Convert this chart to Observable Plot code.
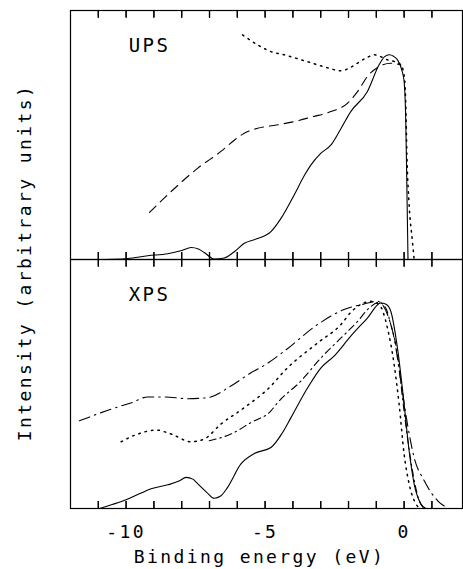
<!DOCTYPE html>
<html>
<head>
<meta charset="utf-8">
<script src="https://cdn.jsdelivr.net/npm/d3@7"></script>
<script src="https://cdn.jsdelivr.net/npm/@observablehq/plot@0.6"></script>
<style>
  html, body { margin: 0; padding: 0; background: white; }
</style>
</head>
<body>
<div id="chart"></div>
<script>
// Panels
const panels = ["UPS", "XPS"];
// Tick positions and labels (binding energy, eV)
const xTicks = [-11, -10, -9, -8, -7, -6, -5, -4, -3, -2, -1, 0, 1];
const xTickLabels = [-10, -5, 0];
const xLabel = "Binding energy (eV)";
const yLabel = "Intensity (arbitrary units)";

// UPS panel: [binding energy (eV), intensity (arb.)]
const upsSolid = [[-11,0],[-10.5,0.1],[-9.94,0.4],[-9.22,1.5],[-8.5,2.3],[-8.0,3.6],[-7.66,4.8],[-7.4,4.2],[-7.19,2.8],[-6.83,0.2],[-6.47,0.6],[-6.1,3.2],[-5.75,6.5],[-5.3,8.3],[-4.79,11.2],[-4.4,17],[-3.95,26],[-3.6,33.5],[-3.35,38],[-2.99,42.7],[-2.63,46],[-2.3,52],[-1.92,59.4],[-1.32,67.5],[-0.9,78.2],[-0.7,81.5],[-0.54,82.2],[-0.38,81.6],[-0.24,80.2],[-0.08,76],[0.0,71.5],[0.06,55.4],[0.1,28.6],[0.14,0]];
const upsDotted = [[-5.81,90.2],[-5.27,86.2],[-4.79,83.5],[-4.31,82.2],[-3.7,80.2],[-3.11,78.2],[-2.7,76.8],[-2.27,75.8],[-1.95,77],[-1.67,78.9],[-1.3,81.3],[-1.08,82.2],[-0.85,81.5],[-0.6,80.2],[-0.35,79.5],[-0.12,78.2],[0.0,74],[0.06,62.1],[0.1,42],[0.18,22],[0.3,7.2],[0.36,0]];
const upsDashed = [[-9.16,18.9],[-8.38,27.3],[-7.42,36.7],[-6.59,43.4],[-6.1,48],[-5.75,50.7],[-5.27,52.7],[-4.6,54],[-3.95,55.4],[-3.3,57.3],[-2.63,59.4],[-2.03,62.8],[-1.67,67.5],[-1.32,73.5],[-0.9,77.5],[-0.48,78.8],[-0.12,78.2]];

// XPS panel
const xpsSolid = [[-10.96,0],[-10.5,1.6],[-10,3.5],[-9.5,6],[-9.1,7.9],[-8.5,9.5],[-8.1,11],[-7.84,12.5],[-7.6,11.8],[-7.42,9.9],[-7.1,6.5],[-6.83,4.1],[-6.6,5],[-6.35,8.5],[-5.87,17.9],[-5.39,22.1],[-4.79,24.5],[-4.4,30],[-4.07,36.5],[-3.47,48.5],[-2.99,56.5],[-2.52,61.2],[-1.92,69.2],[-1.32,76.5],[-0.84,82.5],[-0.65,82],[-0.48,79.2],[-0.24,64.5],[0,41.9],[0.18,23.2],[0.36,9.9],[0.6,1.9],[0.78,0]];
const xpsDashDot = [[-11.68,35.2],[-10.54,39.9],[-9.8,42.5],[-9.22,44.8],[-8.62,44.8],[-7.78,44.1],[-7.06,44.5],[-6.23,49.2],[-5.51,54.5],[-4.97,57.9],[-4.31,63.2],[-3.11,73.9],[-2.16,79.9],[-1.44,82.1],[-0.96,83.2],[-0.6,77.9],[-0.36,68.5],[-0.12,51.2],[0.12,33.9],[0.36,20.5],[0.72,11.2],[1.2,3.2],[1.6,0]];
const xpsDotted = [[-10.18,26.8],[-9.58,29.9],[-8.92,31.5],[-8.38,29.9],[-7.66,26.8],[-7.19,27.9],[-6.59,33.9],[-5.75,40.5],[-4.79,49.2],[-4.31,55.2],[-3.11,66.5],[-2.27,73.9],[-1.9,79],[-1.5,82.3],[-1.2,83.2],[-0.9,81.9],[-0.6,72.5],[-0.36,57.9],[-0.18,41.9],[0,21.9],[0.18,9.9],[0.42,1.9],[0.6,0]];
const xpsDashDotDot = [[-7.01,27.2],[-6.23,29.9],[-5.51,34.5],[-4.79,39.2],[-4.55,42.5],[-3.71,51.2],[-2.99,60.5],[-2.27,68.5],[-1.67,75.2],[-1.26,80.5],[-0.9,82.8],[-0.66,80.5],[-0.48,73.9],[-0.24,61.9],[-0.06,44.5],[0.12,28.5],[0.3,15.2],[0.54,3.2],[0.72,0]];

function series(data, panel, opts) {
  return Plot.line(data, {
    x: d => d[0], y: d => d[1], fy: data.map(() => panel),
    curve: "monotone-x", stroke: "black", strokeWidth: 1.1, ...opts
  });
}

const W = 463, H = 569, mT = 10, mB = 61;
const yMax = 100;
const panelH = (H - mT - mB) / panels.length;
const tickLen = 7 * yMax / panelH; // 7px expressed in y units
// inward tick rules at the bottom and top of every panel
const tickRules = panels.flatMap(p => xTicks.flatMap(x => [
  {panel: p, x, y1: 0, y2: tickLen},
  {panel: p, x, y1: yMax - tickLen, y2: yMax}
]));

const chart = Plot.plot({
  width: W,
  height: H,
  marginLeft: 70,
  marginRight: 1,
  marginTop: mT,
  marginBottom: mB,
  x: {domain: [-12, 2.1]},
  y: {domain: [0, yMax], axis: null},
  fy: {domain: panels, padding: 0, axis: null},
  style: {fontFamily: "DejaVu Sans Mono", fontSize: "18px", background: "white", color: "black", letterSpacing: "2.4px"},
  marks: [
    Plot.frame({stroke: "black", strokeWidth: 1.2}),
    Plot.ruleX(tickRules, {x: "x", y1: "y1", y2: "y2", fy: "panel", stroke: "black", strokeWidth: 1.2}),
    Plot.axisX(xTicks, {anchor: "bottom", facetAnchor: null, tickSize: -7, tickFormat: () => "", label: null, stroke: "black", strokeWidth: 1.2}),
    Plot.axisX(xTicks, {anchor: "top", facetAnchor: null, tickSize: -7, tickFormat: () => "", label: null, stroke: "black", strokeWidth: 1.2}),
    Plot.axisX({ticks: xTickLabels, tickSize: 0, tickPadding: 17, label: null, fontSize: 18, tickFormat: d => String(d)}),
    series(upsSolid, "UPS", {}),
    series(upsDotted, "UPS", {strokeDasharray: "1.5,5", strokeWidth: 1.5}),
    series(upsDashed, "UPS", {strokeDasharray: "9,6"}),
    series(xpsSolid, "XPS", {}),
    series(xpsDashDot, "XPS", {strokeDasharray: "11,5,1.5,5"}),
    series(xpsDotted, "XPS", {strokeDasharray: "1.5,5", strokeWidth: 1.5}),
    series(xpsDashDotDot, "XPS", {strokeDasharray: "7,4,1.5,4"}),
    Plot.text(panels, {fy: d => d, text: d => d, frameAnchor: "top-left", dx: 79, dy: 35, textAnchor: "middle", lineAnchor: "middle", fontSize: 19}),
    Plot.text([yLabel], {fy: ["UPS"], text: d => d, frameAnchor: "bottom-left", dx: -45, dy: 3, rotate: -90, textAnchor: "middle", lineAnchor: "middle", fontSize: 18}),
    Plot.text([xLabel], {fy: ["XPS"], text: d => d, frameAnchor: "bottom", dx: -7, dy: 49, textAnchor: "middle", lineAnchor: "middle", fontSize: 18})
  ]
});
document.getElementById("chart").appendChild(chart);
</script>
</body>
</html>
